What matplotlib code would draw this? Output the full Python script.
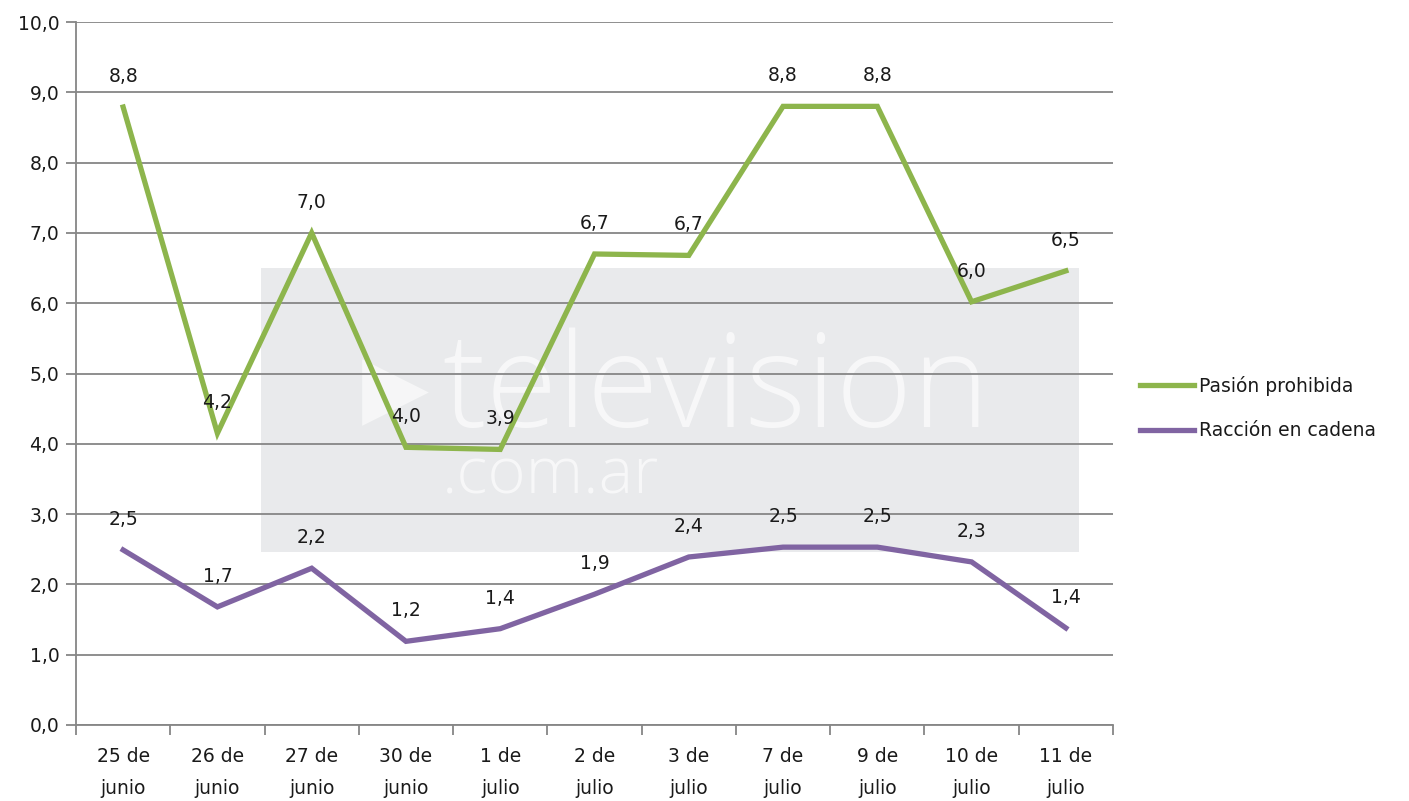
import matplotlib.pyplot as plt
from matplotlib.patches import Rectangle
from matplotlib.ticker import FixedLocator, NullFormatter, FuncFormatter

plt.rcParams["font.family"] = ["DejaVu Sans"]

categories = ["25 de\njunio", "26 de\njunio", "27 de\njunio", "30 de\njunio", "1 de\njulio",
              "2 de\njulio", "3 de\njulio", "7 de\njulio", "9 de\njulio", "10 de\njulio", "11 de\njulio"]
pasion = [8.79, 4.15, 7.00, 3.95, 3.92, 6.70, 6.68, 8.80, 8.80, 6.02, 6.46]
raccion = [2.49, 1.68, 2.23, 1.19, 1.37, 1.86, 2.39, 2.53, 2.53, 2.32, 1.38]
series_names = ["Pasión prohibida", "Racción en cadena"]

GREEN = "#8DB54C"
PURPLE = "#8064A2"
GRID = "#868686"
TEXT = "#1a1a1a"
FS = 13.5

fig = plt.figure(figsize=(14.09, 8.01), dpi=100)
ax = fig.add_axes([76 / 1409, 1 - 725 / 801, (1113 - 76) / 1409, (725 - 22) / 801])

x = list(range(len(categories)))
ax.set_xlim(-0.5, len(categories) - 0.5)
ax.set_ylim(0, 10)

# watermark box (television.com.ar)
ax.add_patch(Rectangle((1.46, 2.46), 8.68, 4.04, facecolor="#E9EAEC", edgecolor="none", zorder=0.5))
ax.text(3.383, 4.245, "television", fontsize=94, color="white", alpha=0.65,
        ha="left", va="baseline", zorder=0.6, family="Open Sans", fontweight="light")
ax.text(3.383, 3.3, ".com.ar", fontsize=47, color="white", alpha=0.65,
        ha="left", va="baseline", zorder=0.6, family="Open Sans", fontweight="light")
ax.scatter([2.88], [4.74], marker=">", s=2300, color="white", alpha=0.6, zorder=0.6, linewidths=0)

for vals, color, name in [(pasion, GREEN, series_names[0]), (raccion, PURPLE, series_names[1])]:
    ax.plot(x, vals, color=color, lw=3.8, label=name, zorder=3, solid_joinstyle="miter")
    for xi, v in zip(x, vals):
        ax.annotate(f"{v:.1f}".replace(".", ","), (xi, v), xytext=(0, 22),
                    textcoords="offset points", ha="center", va="center",
                    fontsize=FS, color=TEXT, zorder=4)

ax.yaxis.set_major_locator(FixedLocator([i for i in range(11)]))
ax.yaxis.set_major_formatter(FuncFormatter(lambda v, p: f"{v:.1f}".replace(".", ",")))
ax.grid(axis="y", color=GRID, lw=1.3, zorder=1)
ax.set_axisbelow(False)

ax.xaxis.set_major_locator(FixedLocator([i - 0.5 for i in range(len(categories) + 1)]))
ax.xaxis.set_major_formatter(NullFormatter())
ax.xaxis.set_minor_locator(FixedLocator(x))
ax.set_xticklabels(categories, minor=True)
ax.tick_params(axis="x", which="major", length=7, color=GRID, width=1.3)
ax.tick_params(axis="x", which="minor", length=0, pad=16, labelsize=FS, labelcolor=TEXT)
ax.tick_params(axis="y", length=7, color=GRID, width=1.3, labelsize=FS, labelcolor=TEXT, pad=5)
for lab in ax.get_xticklabels(minor=True):
    lab.set_linespacing(1.85)

for s in ["top", "right"]:
    ax.spines[s].set_visible(False)
for s in ["left", "bottom"]:
    ax.spines[s].set_color(GRID)
    ax.spines[s].set_linewidth(1.3)
    ax.spines[s].set_zorder(2)

leg = fig.legend(loc="center left", bbox_to_anchor=(1140 / 1409, 1 - 408 / 801), frameon=False,
                 fontsize=FS, handlelength=2.9, labelspacing=1.35, handletextpad=0.25,
                 borderaxespad=0, borderpad=0)
for t in leg.get_texts():
    t.set_color(TEXT)

fig.savefig("out.png", dpi=100, facecolor="white")
